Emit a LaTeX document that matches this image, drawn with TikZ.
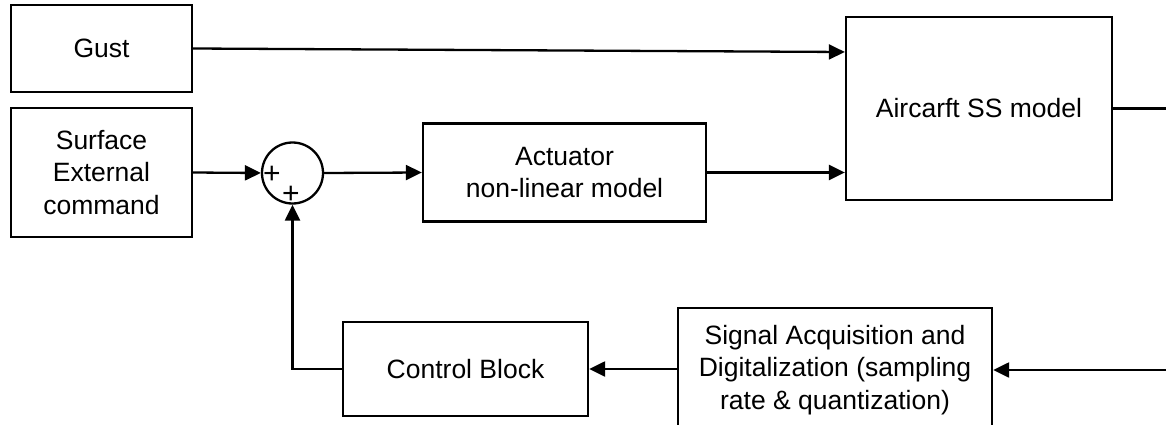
\documentclass[tikz,border=0pt]{standalone}
\usepackage{fontspec}
\setmainfont{Liberation Sans}
\usetikzlibrary{arrows.meta,calc}
\begin{document}
\begin{tikzpicture}[x=1pt,y=-1pt,
  blk/.style={draw,line width=2.3pt,align=center,inner sep=0pt,font=\fontsize{26.5}{32.5}\selectfont},
  arr/.style={line width=2.3pt,-{Triangle[length=16pt,width=15pt]}},
  ln/.style={line width=2.3pt},
  pls/.style={font=\fontsize{30}{30}\selectfont,inner sep=0pt}]
\useasboundingbox (0,0) rectangle (1166,425);
\begin{scope}
\clip (0,0) rectangle (1166,425);
\node[blk,minimum width=181pt,minimum height=87pt] (gust) at (101.5,48.5) {Gust};
\node[blk,minimum width=181pt,minimum height=129pt] (surf) at (101.5,172.5) {Surface\\External\\command};
\node[draw,circle,line width=2.3pt,minimum size=61pt,inner sep=0pt] (sum) at (292.5,173) {};
\node[pls] (p1) at (272,175) {+};
\node[pls] (p2) at (291,195) {+};
\node[blk,minimum width=283pt,minimum height=98pt] (act) at (564.5,172.5) {Actuator\\non-linear model};
\node[blk,minimum width=266pt,minimum height=183pt] (air) at (979,108.5) {Aircarft SS model};
\node[blk,minimum width=314pt,minimum height=124pt] (sig) at (835,370) {Signal Acquisition and\\Digitalization (sampling\\rate \& quantization)};
\node[blk,minimum width=245pt,minimum height=94pt] (ctrl) at (465.5,369) {Control Block};
\coordinate (gin) at ($(air.west)+(0,-56.5)$);
\coordinate (ain) at (air.west |- act.east);
\coordinate (out) at (1170,108.5);
\coordinate (fb) at (1170,370);
\coordinate (corner) at (sum.south |- ctrl.west);
\draw[arr] (gust.east) -- (gin);
\draw[arr] (surf.east) -- (sum.west);
\draw[arr] (sum.east) -- (act.west);
\draw[arr] (act.east) -- (ain);
\draw[ln] (air.east) -- (out);
\draw[arr] (fb) -- (sig.east);
\draw[arr] (sig.west |- ctrl.east) -- (ctrl.east);
\draw[arr] (ctrl.west) -- (corner) -- (sum.south);
\end{scope}
\end{tikzpicture}
\end{document}
